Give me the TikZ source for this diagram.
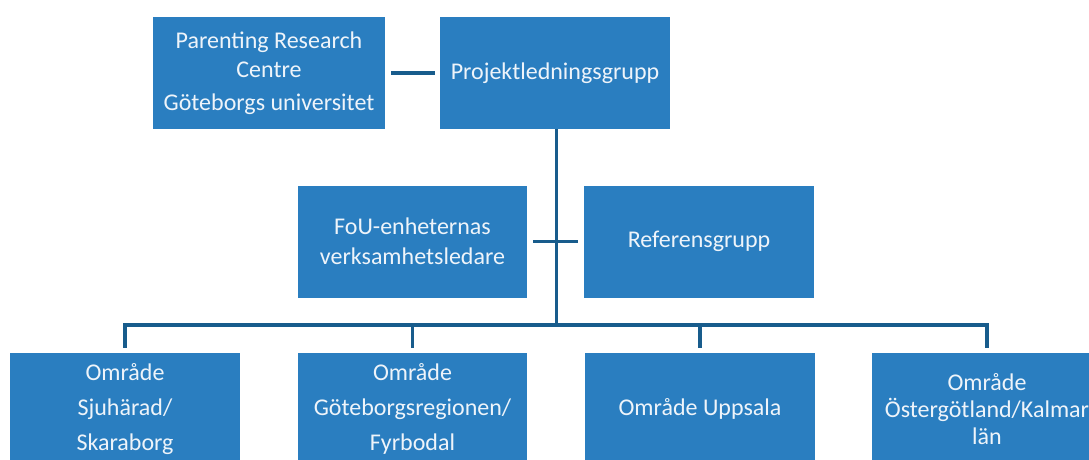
\documentclass[tikz,border=0pt]{standalone}
\usepackage{fontspec}
\setmainfont{Carlito}
\definecolor{boxblue}{RGB}{42,126,192}
\definecolor{linblue}{RGB}{24,92,140}
\definecolor{txt}{RGB}{238,244,250}
\tikzset{
  box/.style={fill=boxblue, draw=none, text=txt, align=center, inner sep=0pt,
    minimum width=230pt, minimum height=112pt},
  conn/.style={draw=linblue, line width=3.5pt},
}
\begin{document}
\begin{tikzpicture}[x=1pt,y=-1pt]
\useasboundingbox (0,0) rectangle (1089,460);
\clip (0,0) rectangle (1089,460);
\fill[white] (0,0) rectangle (1089,460);
\node[box, minimum width=232pt, font={\fontsize{24}{29}\selectfont}] (A) at (269,73)
  {Parenting Research\\Centre\\[4pt]Göteborgs universitet};
\node[box, font={\fontsize{24}{29}\selectfont}] (B) at (555,73) {Projektledningsgrupp};
\node[box, minimum width=229pt, font={\fontsize{24}{30}\selectfont}] (C) at (412.5,241.5)
  {FoU-enheternas\\verksamhetsledare};
\node[box, font={\fontsize{24}{30}\selectfont}] (D) at (699,241.5) {Referensgrupp};
\node[box, font={\fontsize{24}{35}\selectfont}] (E1) at (125,409) {Område\\Sjuhärad/\\Skaraborg};
\node[box, minimum width=229pt, font={\fontsize{24}{35}\selectfont}] (E2) at (412.5,409) {Område\\Göteborgsregionen/\\Fyrbodal};
\node[box, font={\fontsize{24}{35}\selectfont}] (E3) at (700,409) {Område Uppsala};
\node[box, font={\fontsize{24}{27}\selectfont}] (E4) at (987,409) {Område\\Östergötland/Kalmar\\län};
\coordinate (bus) at (556,325);
\draw[conn, shorten <=6pt, shorten >=5pt] (A) -- (B);
\draw[conn, line width=3pt] ([xshift=1pt]B.south) -- ([xshift=1pt]B.south |- bus);
\draw[conn, shorten <=6pt, shorten >=6pt] (C) -- (D);
\draw[conn] ([yshift=5pt]E1.north) |- (bus) -| ([yshift=5pt]E4.north);
\draw[conn] ([yshift=5pt]E2.north) -- (E2.north |- bus);
\draw[conn] ([yshift=5pt]E3.north) -- (E3.north |- bus);
\end{tikzpicture}
\end{document}
